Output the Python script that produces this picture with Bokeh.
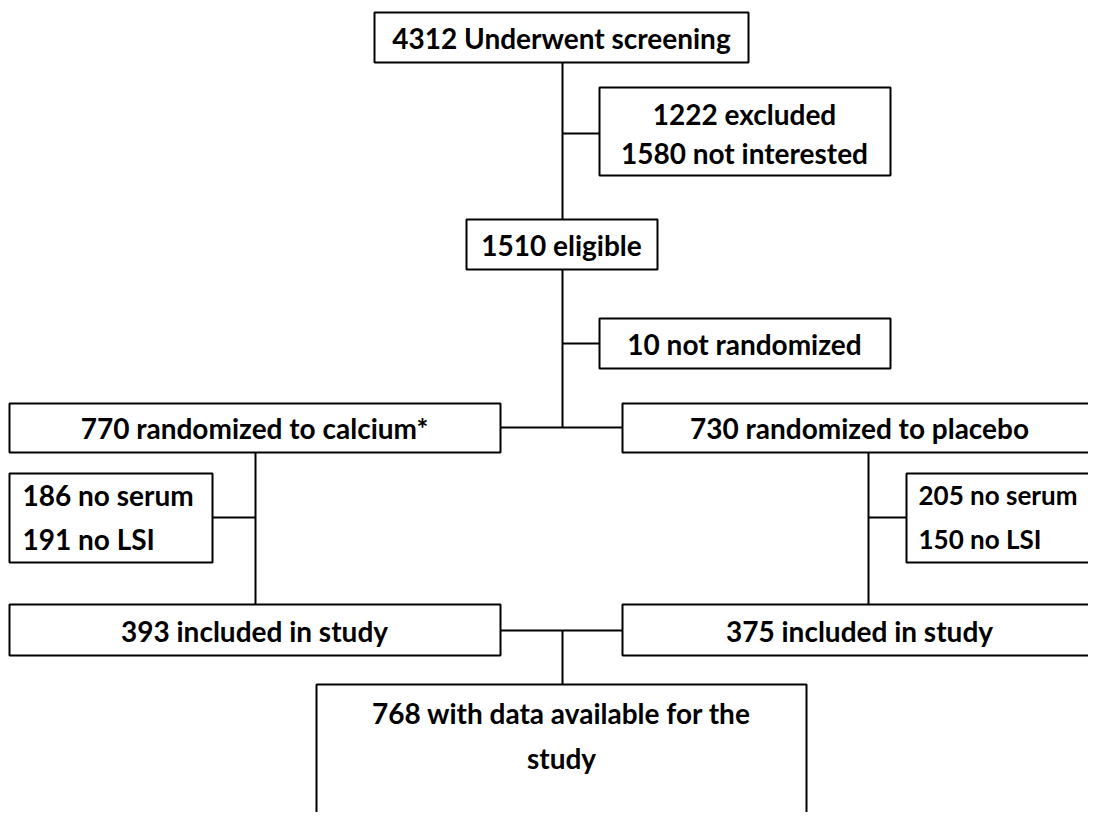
from bokeh.plotting import figure
from bokeh.models import Range1d, ColumnDataSource
from bokeh.core.properties import value
from bokeh.embed import file_html
from bokeh.resources import INLINE

# ---- data (counts from the flow diagram) ----
stage_names = ["screened", "excluded", "not_interested", "eligible", "not_randomized",
               "calcium", "placebo", "calc_no_serum", "calc_no_lsi",
               "plac_no_serum", "plac_no_lsi", "calc_included", "plac_included", "total"]
stage_counts = [4312, 1222, 1580, 1510, 10, 770, 730, 186, 191, 205, 150, 393, 375, 768]
c = dict(zip(stage_names, stage_counts))

# ---- layout (reference pixel coordinates) ----
# boxes: left, right, top, bottom
boxes = {
    "screen": (374, 748, 12, 62),
    "excl": (599, 890, 87, 175),
    "elig": (466, 657, 219, 269),
    "notrand": (599, 890, 318, 368),
    "calc": (9, 500, 403, 452),
    "plac": (622, 1120, 403, 452),
    "calcx": (9, 212, 473, 562),
    "placx": (906, 1120, 473, 562),
    "calcin": (9, 500, 604, 655),
    "placin": (622, 1120, 604, 655),
    "total": (316, 806, 684, 840),
}

# connectors: x0, y0, x1, y1
segs = [
    (562, 62, 562, 219),
    (562, 133, 599, 133),
    (562, 269, 562, 427),
    (562, 343, 599, 343),
    (500, 427, 622, 427),
    (255, 452, 255, 604),
    (212, 517, 255, 517),
    (868, 452, 868, 604),
    (868, 517, 906, 517),
    (500, 630, 622, 630),
    (562, 630, 562, 684),
]

center_texts = [
    (f"{c['screened']} Underwent screening", 561, 37),
    (f"{c['excluded']} excluded", 744, 113),
    (f"{c['not_interested']} not interested", 744, 152),
    (f"{c['eligible']} eligible", 561, 244),
    (f"{c['not_randomized']} not randomized", 744, 343),
    (f"{c['calcium']} randomized to calcium*", 254, 427),
    (f"{c['placebo']} randomized to placebo", 859, 427),
    (f"{c['calc_included']} included in study", 254, 630),
    (f"{c['plac_included']} included in study", 859, 630),
    (f"{c['total']} with data available for the", 561, 712),
    ("study", 561, 757),
]
left_texts = [
    (f"{c['calc_no_serum']} no serum", 22, 494),
    (f"{c['calc_no_lsi']} no LSI", 22, 538),
]
right_texts = [
    (f"{c['plac_no_serum']} no serum", 918, 494),
    (f"{c['plac_no_lsi']} no LSI", 918, 538),
]

W, H = 1088, 812
p = figure(width=W, height=H, output_backend="svg", toolbar_location=None,
           x_range=Range1d(0, W), y_range=Range1d(H, 0),
           min_border=0, outline_line_color=None)
p.axis.visible = False
p.grid.visible = False
p.background_fill_color = "white"
p.border_fill_color = "white"

bsrc = ColumnDataSource(dict(
    left=[b[0] for b in boxes.values()], right=[b[1] for b in boxes.values()],
    top=[b[2] for b in boxes.values()], bottom=[b[3] for b in boxes.values()]))
p.quad(left="left", right="right", top="top", bottom="bottom", source=bsrc,
       fill_color="white", line_color="black", line_width=2)

ssrc = ColumnDataSource(dict(x0=[s[0] for s in segs], y0=[s[1] for s in segs],
                             x1=[s[2] for s in segs], y1=[s[3] for s in segs]))
p.segment(x0="x0", y0="y0", x1="x1", y1="y1", source=ssrc, line_color="black", line_width=2)

FONT = value("Lato")
FS = value("28px")
p.text(x=[t[1] for t in center_texts], y=[t[2] for t in center_texts],
       text=[t[0] for t in center_texts], text_font=FONT, text_font_size=FS,
       text_font_style="bold", text_align="center", text_baseline="middle",
       text_color="black")
p.text(x=[t[1] for t in left_texts], y=[t[2] for t in left_texts],
       text=[t[0] for t in left_texts], text_font=FONT, text_font_size=FS,
       text_font_style="bold", text_align="left", text_baseline="middle",
       text_color="black")
p.text(x=[t[1] for t in right_texts], y=[t[2] for t in right_texts],
       text=[t[0] for t in right_texts], text_font=FONT, text_font_size=value("26px"),
       text_font_style="bold", text_align="left", text_baseline="middle",
       text_color="black")

open("out.html", "w").write(file_html(p, INLINE))
